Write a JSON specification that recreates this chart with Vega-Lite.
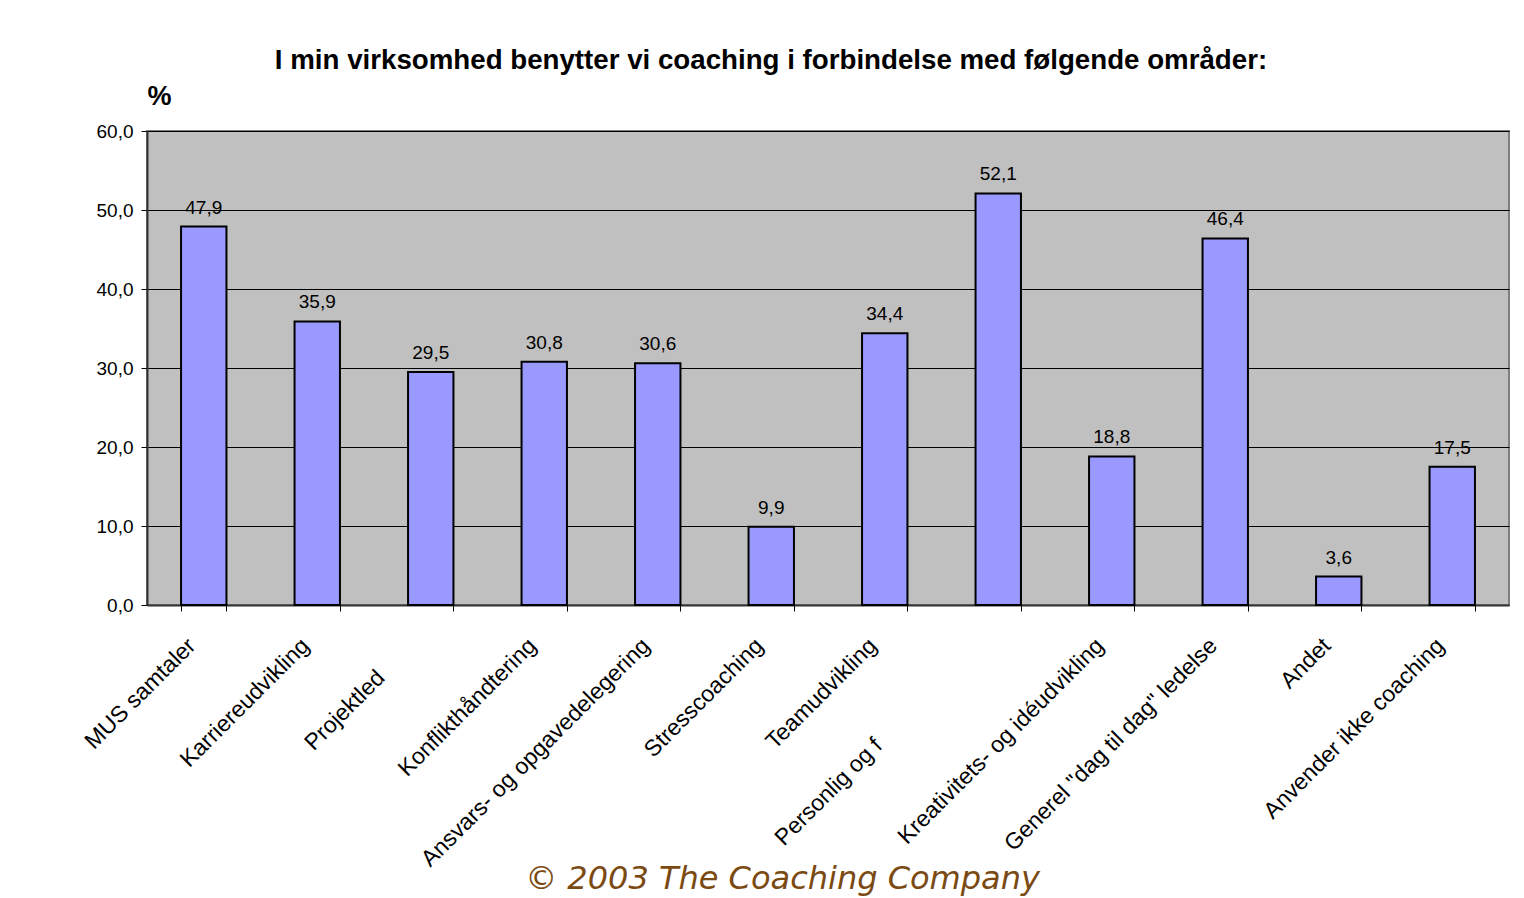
{
  "$schema": "https://vega.github.io/schema/vega-lite/v6.json",
  "autosize": "none",
  "width": 1362,
  "height": 474,
  "padding": {"left": 147, "top": 131, "right": 15, "bottom": 293},
  "background": "white",
  "title": {
    "text": "I min virksomhed benytter vi coaching i forbindelse med følgende områder:",
    "font": "Liberation Sans",
    "fontSize": 27.7,
    "fontWeight": "bold",
    "color": "black",
    "anchor": "middle",
    "frame": "group",
    "dx": -57,
    "baseline": "alphabetic",
    "offset": -15
  },
  "data": {
    "values": [
      {"omraade": "MUS samtaler", "pct": 47.9},
      {"omraade": "Karriereudvikling", "pct": 35.9},
      {"omraade": "Projektled", "pct": 29.5},
      {"omraade": "Konflikthåndtering", "pct": 30.8},
      {"omraade": "Ansvars- og opgavedelegering", "pct": 30.6},
      {"omraade": "Stresscoaching", "pct": 9.9},
      {"omraade": "Teamudvikling", "pct": 34.4},
      {"omraade": "Personlig og f", "pct": 52.1},
      {"omraade": "Kreativitets- og idéudvikling", "pct": 18.8},
      {"omraade": "Generel \"dag til dag\" ledelse", "pct": 46.4},
      {"omraade": "Andet", "pct": 3.6},
      {"omraade": "Anvender ikke coaching", "pct": 17.5}
    ]
  },
  "encoding": {
    "x": {
      "field": "omraade",
      "type": "nominal",
      "sort": null,
      "scale": {"paddingInner": 0.6, "paddingOuter": 0.3},
      "axis": {
        "title": "© 2003 The Coaching Company",
        "titleFont": "DejaVu Sans",
        "titleFontStyle": "italic",
        "titleFontWeight": "normal",
        "titleFontSize": 32,
        "titleColor": "#7B4A12",
        "titleX": 635,
        "titleY": 283,
        "titleAlign": "center",
        "titleBaseline": "alphabetic",
        "labelAngle": -45,
        "labelAlign": "right",
        "labelBaseline": "top",
        "labelFont": "Liberation Sans",
        "labelFontSize": 23,
        "labelColor": "black",
        "labelLimit": 0,
        "labelOverlap": false,
        "labelOffset": {"condition": [{"test": "datum.value === 'Projektled'", "value": -58}, {"test": "datum.value === 'Personlig og f'", "value": -128}], "value": -20},
        "labelPadding": {"condition": [{"test": "datum.value === 'Projektled'", "value": 55}, {"test": "datum.value === 'Personlig og f'", "value": 123}], "value": 23},
        "tickBand": "extent",
        "tickSize": 6,
        "tickColor": "black",
        "domainColor": "#333333",
        "domainWidth": 2,
        "grid": false
      }
    },
    "y": {
      "field": "pct",
      "type": "quantitative",
      "scale": {"domain": [0, 60], "nice": false},
      "axis": {
        "title": "%",
        "titleFont": "Liberation Sans",
        "titleFontSize": 27,
        "titleFontWeight": "bold",
        "titleColor": "black",
        "titleAngle": 0,
        "titleX": 12,
        "titleY": -27,
        "titleAlign": "center",
        "titleBaseline": "alphabetic",
        "values": [0, 10, 20, 30, 40, 50, 60],
        "format": ".1f",
        "labelFont": "Liberation Sans",
        "labelFontSize": 19,
        "labelColor": "black",
        "labelPadding": 8,
        "tickSize": 6,
        "tickColor": "black",
        "domainColor": "#333333",
        "domainWidth": 2,
        "grid": true,
        "gridColor": "black",
        "gridWidth": 1,
        "gridOpacity": 1
      }
    }
  },
  "layer": [
    {
      "mark": {"type": "bar", "fill": "#9999FF", "stroke": "black", "strokeWidth": 2}
    },
    {
      "mark": {"type": "text", "baseline": "alphabetic", "dy": -13, "font": "Liberation Sans", "fontSize": 19, "color": "black"},
      "encoding": {
        "text": {"field": "pct", "type": "quantitative", "format": ".1f"}
      }
    }
  ],
  "config": {
    "locale": {
      "number": {"decimal": ",", "thousands": ".", "grouping": [3], "currency": ["", " kr."]}
    },
    "view": {"fill": "#C0C0C0", "stroke": "#808080", "strokeWidth": 2}
  }
}
